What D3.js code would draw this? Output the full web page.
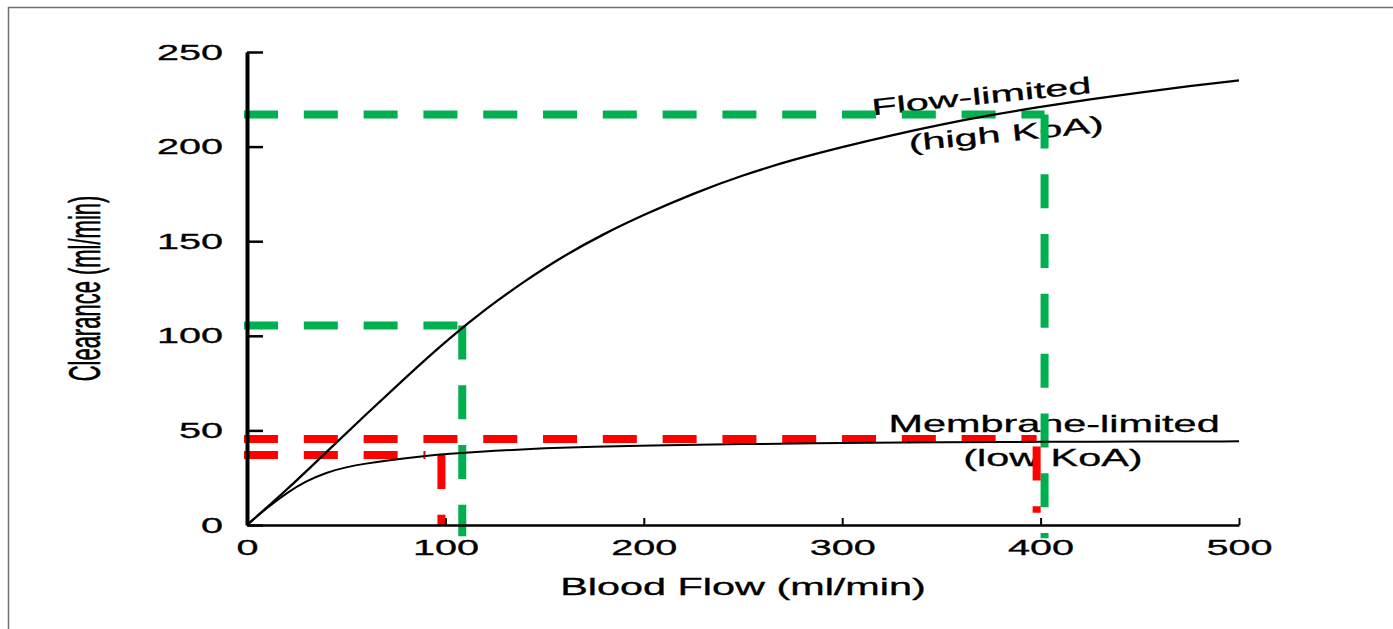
<!DOCTYPE html>
<html>
<head>
<meta charset="utf-8">
<script src="https://cdn.jsdelivr.net/npm/d3@7"></script>
<style>
body { margin: 0; background: #fff; }
svg { display: block; font-family: "Liberation Sans", Arial, Helvetica, sans-serif; }
</style>
</head>
<body>
<script>
// clearance vs blood flow (ml/min)
var flowX = [0, 20, 40, 60, 80, 100, 120, 140, 160, 180, 200, 225, 250, 275, 300, 325, 350, 375, 400, 425, 450, 475, 500];
var flowLimited = [0, 18.5, 38.5, 58.5, 78, 97, 114, 129, 142.5, 154, 164, 175.3, 185, 193, 199.8, 206, 211.7, 216.7, 221, 225, 228.6, 232, 235];
var membraneX = [0, 10, 20, 30, 40, 50, 60, 70, 80, 90, 100, 125, 150, 175, 200, 250, 300, 350, 400, 450, 500];
var membraneLimited = [0, 9, 17, 23.3, 27.8, 30.6, 32.5, 34, 35.3, 36.5, 37.5, 39.3, 40.6, 41.4, 42, 42.8, 43.3, 43.7, 44, 44.1, 44.2];

var xTicks = [0, 100, 200, 300, 400, 500];
var yTicks = [0, 50, 100, 150, 200, 250];

// hand drawn guide lines (green = flow-limited, red = membrane-limited)
var guideStart = -1.5;
var greenFlow = [108.5, 402];
var greenClear = [105.5, 217];
var greenBottom = [-6, -7];
var redClear = [37, 45.5];
var redLineEnd = [90, 398];
var redFlow = [98, 398];
var redDropTop = [37, 41.5];
var redBottom = [0, 6.5];

var labelText = ["Flow-limited", "(high KoA)", "Membrane-limited", "(low KoA)"];
var labelFlow = [370.5, 383, 406.8, 406.2];
var labelClear = [222.5, 202.7, 49.4, 31.2];
var labelAngle = [-5.8, -5.7, 0, 0];

var W = 1393, H = 629;
var stretch = 1.8; // the original scan is widened horizontally

var svg = d3.select("body").append("svg")
    .attr("width", W)
    .attr("height", H);

// frame (only top and left edges show)
svg.append("path")
    .attr("d", "M8.5," + H + "V7.5H" + W)
    .attr("fill", "none")
    .attr("stroke", "#707070")
    .attr("stroke-width", 1.5);

var x = d3.scaleLinear().domain([0, 500]).range([247, 1239]);
var y = d3.scaleLinear().domain([0, 250]).range([525, 52]);

// curve labels
labelText.forEach(function(t, i){
  svg.append("text")
      .attr("transform", "translate(" + x(labelFlow[i]) + "," + y(labelClear[i]) + ") rotate(" + labelAngle[i] + ") scale(" + stretch + ",1)")
      .attr("text-anchor", "middle")
      .attr("font-size", 23)
      .attr("fill", "#000")
      .attr("stroke", "#000")
      .attr("stroke-width", 0.3)
      .text(t);
});

// guides
var guides = svg.append("g")
    .attr("fill", "none")
    .attr("stroke-width", 8)
    .attr("stroke-dasharray", "34,25.8");

function seg(x1, y1, x2, y2, color){
  guides.append("path")
      .attr("d", d3.line()([[x(x1), y(y1)], [x(x2), y(y2)]]))
      .attr("stroke", color);
}

for (var i = 0; i < greenFlow.length; i++){
  seg(guideStart, greenClear[i], greenFlow[i], greenClear[i], "#00b050");
  seg(greenFlow[i], greenClear[i], greenFlow[i], greenBottom[i], "#00b050");
}
for (var j = 0; j < redClear.length; j++){
  seg(guideStart, redClear[j], redLineEnd[j], redClear[j], "#ff0000");
  seg(redFlow[j], redDropTop[j], redFlow[j], redBottom[j], "#ff0000");
}

// curves
var line = d3.line()
    .x(function(d){ return x(d[0]); })
    .y(function(d){ return y(d[1]); })
    .curve(d3.curveBasis);

svg.append("path")
    .attr("d", line(flowX.map(function(v, k){ return [v, flowLimited[k]]; })))
    .attr("fill", "none")
    .attr("stroke", "#000")
    .attr("stroke-width", 2.3);

svg.append("path")
    .attr("d", line(membraneX.map(function(v, k){ return [v, membraneLimited[k]]; })))
    .attr("fill", "none")
    .attr("stroke", "#000")
    .attr("stroke-width", 2);

// axes
var yAxis = svg.append("g")
    .attr("transform", "translate(247,0)")
    .call(d3.axisLeft(y).tickValues(yTicks).tickSizeInner(-16).tickSizeOuter(0).tickPadding(0));
yAxis.select(".domain").attr("stroke-width", 4);
yAxis.selectAll(".tick line").attr("stroke-width", 2.5);
yAxis.selectAll(".tick text")
    .attr("x", 0)
    .attr("font-size", 22)
    .attr("stroke", "#000")
    .attr("stroke-width", 0.3)
    .attr("transform", "translate(-24,0) scale(" + stretch + ",1)");

var xAxis = svg.append("g")
    .attr("transform", "translate(0,525)")
    .call(d3.axisBottom(x).tickValues(xTicks).tickSizeInner(-7).tickSizeOuter(0).tickPadding(0));
xAxis.select(".domain").attr("stroke-width", 2.5);
xAxis.selectAll(".tick line").attr("stroke-width", 2);
xAxis.selectAll(".tick text")
    .attr("y", 0)
    .attr("font-size", 22)
    .attr("stroke", "#000")
    .attr("stroke-width", 0.3)
    .attr("transform", "translate(0,14) scale(" + stretch + ",1)");
yAxis.attr("font-family", null).attr("font-size", null);
xAxis.attr("font-family", null).attr("font-size", null);

// axis titles
svg.append("text")
    .attr("transform", "translate(" + x(250) + ",595) scale(" + stretch + ",1)")
    .attr("text-anchor", "middle")
    .attr("font-size", 23)
    .attr("stroke", "#000")
    .attr("stroke-width", 0.3)
    .text("Blood Flow (ml/min)");

svg.append("text")
    .attr("transform", "translate(100," + y(125) + ") scale(2,1) rotate(-90)")
    .attr("text-anchor", "middle")
    .attr("font-size", 22)
    .attr("stroke", "#000")
    .attr("stroke-width", 0.3)
    .text("Clearance (ml/min)");
</script>
</body>
</html>
